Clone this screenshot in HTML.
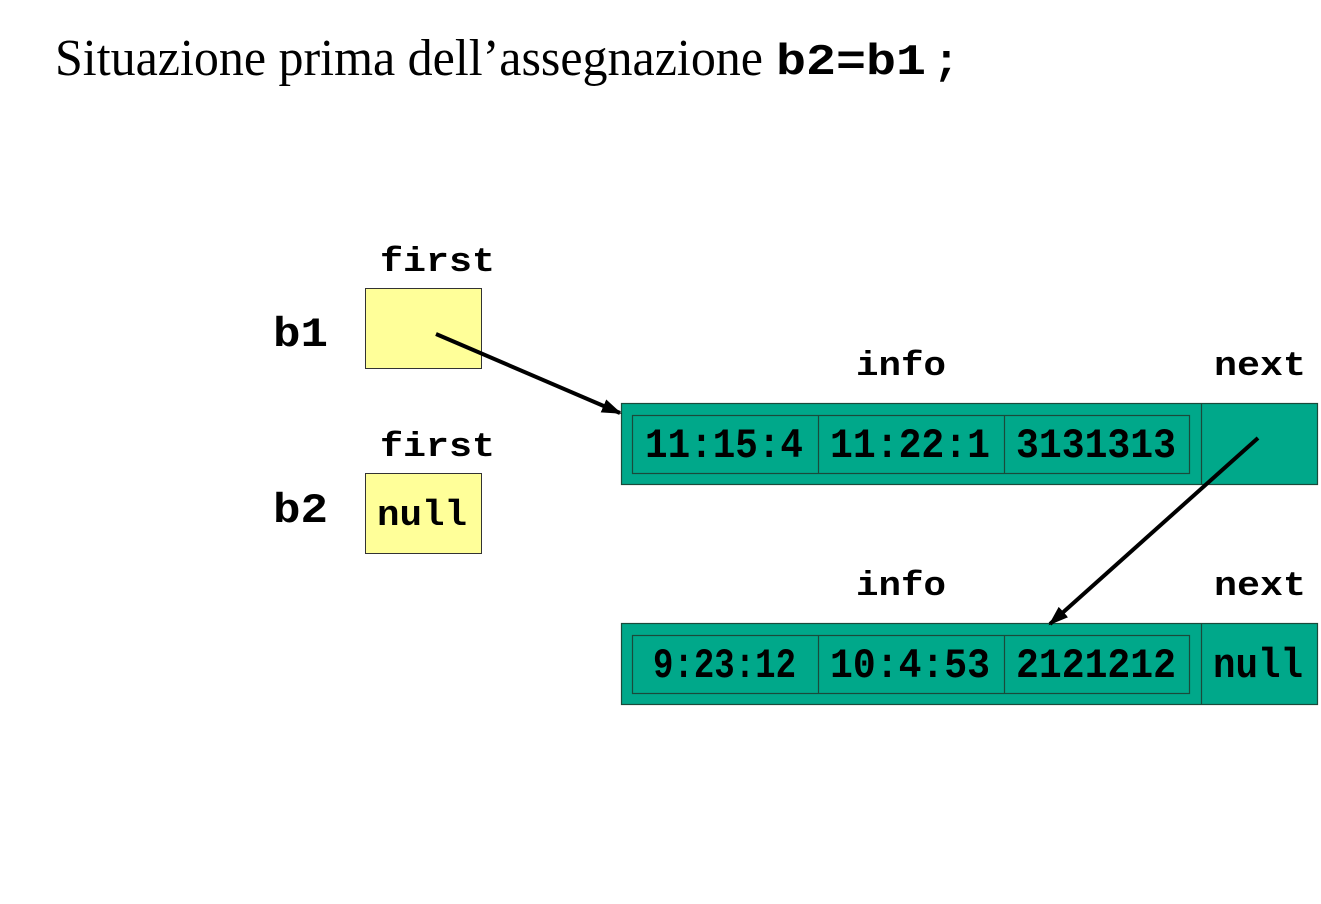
<!DOCTYPE html>
<html><head><meta charset="utf-8"><style>html,body{margin:0;padding:0;background:#fff}svg{display:block}</style></head>
<body>
<svg width="1321" height="904" viewBox="0 0 1321 904" xmlns="http://www.w3.org/2000/svg">
<defs><marker id="ah" markerWidth="20" markerHeight="14" refX="18" refY="7" orient="auto" markerUnits="userSpaceOnUse" viewBox="0 0 20 14"><path d="M0,0 L20,7 L0,14 Z" fill="#000"/></marker></defs>
<text x="55" y="75" font-family="Liberation Serif, serif" font-size="52" textLength="708" lengthAdjust="spacingAndGlyphs">Situazione prima dell’assegnazione</text>
<text x="776" y="74" font-family="Liberation Mono, monospace" font-weight="bold" font-size="44" textLength="150" lengthAdjust="spacingAndGlyphs">b2=b1</text>
<text x="933" y="74" font-family="Liberation Mono, monospace" font-weight="bold" font-size="44">;</text>

<g font-family="Liberation Mono, monospace" font-weight="bold" fill="#000">
<text x="380" y="271" font-size="34" textLength="115" lengthAdjust="spacingAndGlyphs">first</text>
<text x="380" y="456" font-size="34" textLength="115" lengthAdjust="spacingAndGlyphs">first</text>
<text x="273" y="346" font-size="42" textLength="55" lengthAdjust="spacingAndGlyphs">b1</text>
<text x="273" y="522" font-size="42" textLength="55" lengthAdjust="spacingAndGlyphs">b2</text>
<text x="856" y="375" font-size="34" textLength="90" lengthAdjust="spacingAndGlyphs">info</text>
<text x="1214" y="375" font-size="34" textLength="92" lengthAdjust="spacingAndGlyphs">next</text>
<text x="856" y="595" font-size="34" textLength="90" lengthAdjust="spacingAndGlyphs">info</text>
<text x="1214" y="595" font-size="34" textLength="92" lengthAdjust="spacingAndGlyphs">next</text>
</g>

<rect x="365.5" y="288.5" width="116" height="80" fill="#FFFF99" stroke="#333" stroke-width="1"/>
<rect x="365.5" y="473.5" width="116" height="80" fill="#FFFF99" stroke="#333" stroke-width="1"/>
<text x="377" y="525" font-family="Liberation Mono, monospace" font-weight="bold" font-size="36" textLength="90" lengthAdjust="spacingAndGlyphs">null</text>

<g stroke="#1a4a3a" stroke-width="1.2" fill="#00A88A">
<rect x="621.5" y="403.5" width="696" height="81"/>
<line x1="1201.5" y1="403.5" x2="1201.5" y2="484.5"/>
<rect x="632.5" y="415.5" width="557" height="58"/>
<line x1="818.5" y1="415.5" x2="818.5" y2="473.5"/>
<line x1="1004.5" y1="415.5" x2="1004.5" y2="473.5"/>
<rect x="621.5" y="623.5" width="696" height="81"/>
<line x1="1201.5" y1="623.5" x2="1201.5" y2="704.5"/>
<rect x="632.5" y="635.5" width="557" height="58"/>
<line x1="818.5" y1="635.5" x2="818.5" y2="693.5"/>
<line x1="1004.5" y1="635.5" x2="1004.5" y2="693.5"/>
</g>
<g font-family="Liberation Mono, monospace" font-weight="bold" font-size="42" fill="#000">
<text x="645" y="457" textLength="158" lengthAdjust="spacingAndGlyphs">11:15:4</text>
<text x="830" y="457" textLength="160" lengthAdjust="spacingAndGlyphs">11:22:1</text>
<text x="1016" y="457" textLength="160" lengthAdjust="spacingAndGlyphs">3131313</text>
<text x="653" y="677" textLength="143" lengthAdjust="spacingAndGlyphs">9:23:12</text>
<text x="830" y="677" textLength="160" lengthAdjust="spacingAndGlyphs">10:4:53</text>
<text x="1016" y="677" textLength="160" lengthAdjust="spacingAndGlyphs">2121212</text>
<text x="1213" y="677" textLength="90" lengthAdjust="spacingAndGlyphs">null</text>
</g>

<line x1="436" y1="334" x2="620" y2="413" stroke="#000" stroke-width="4" marker-end="url(#ah)"/>
<line x1="1258" y1="438" x2="1050" y2="624" stroke="#000" stroke-width="4" marker-end="url(#ah)"/>
</svg>
</body></html>
